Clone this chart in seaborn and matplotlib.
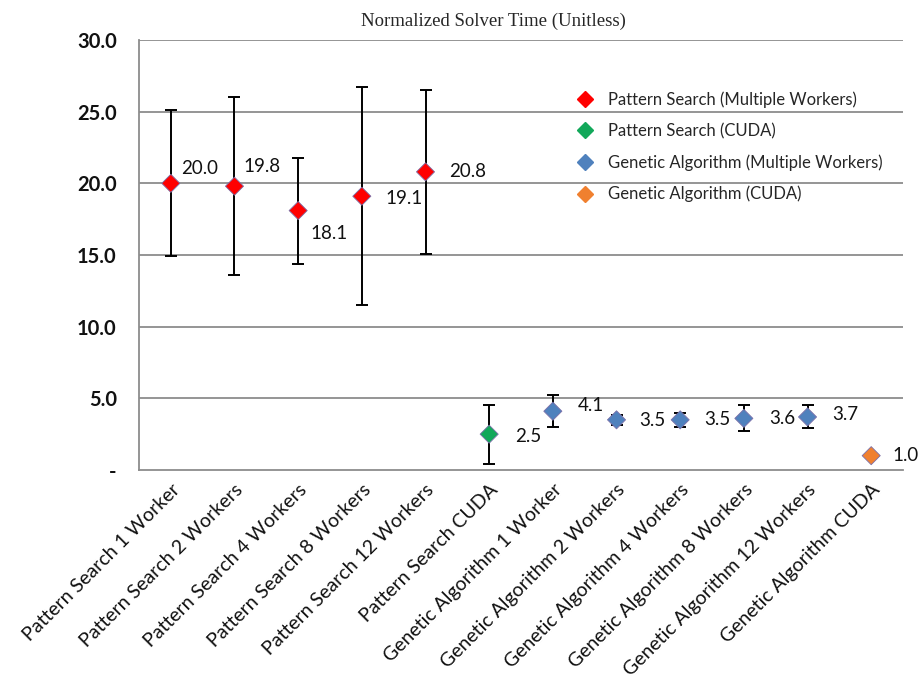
import matplotlib
matplotlib.use("Agg")
import matplotlib.pyplot as plt
import seaborn as sns
import pandas as pd
import numpy as np
from matplotlib.lines import Line2D

categories = [
    "Pattern Search 1 Worker", "Pattern Search 2 Workers", "Pattern Search 4 Workers",
    "Pattern Search 8 Workers", "Pattern Search 12 Workers", "Pattern Search CUDA",
    "Genetic Algorithm 1 Worker", "Genetic Algorithm 2 Workers", "Genetic Algorithm 4 Workers",
    "Genetic Algorithm 8 Workers", "Genetic Algorithm 12 Workers", "Genetic Algorithm CUDA",
]
values = [20.0, 19.8, 18.1, 19.1, 20.8, 2.5, 4.1, 3.5, 3.5, 3.6, 3.7, 1.0]
errors = [5.1, 6.2, 3.7, 7.6, 5.7, 2.05, 1.1, 0.35, 0.5, 0.9, 0.8, 0.0]
series = ["Pattern Search (Multiple Workers)"] * 5 + ["Pattern Search (CUDA)"] + \
         ["Genetic Algorithm (Multiple Workers)"] * 5 + ["Genetic Algorithm (CUDA)"]
series_order = ["Pattern Search (Multiple Workers)", "Pattern Search (CUDA)",
                "Genetic Algorithm (Multiple Workers)", "Genetic Algorithm (CUDA)"]
series_colors = ["#FF0000", "#12A85A", "#4F81BD", "#F0802F"]
y_ticks = [0, 5, 10, 15, 20, 25, 30]
y_tick_labels = ["-", "5.0", "10.0", "15.0", "20.0", "25.0", "30.0"]

# value-label placement relative to each marker, in pixels (right, up)
label_offsets_px = [(10, 15), (9, 20), (12, -23), (24, -2), (24, 0), (26, -2),
                    (25, 6), (23, -1), (24, 0), (25, 0), (25, 2), (21, 0)]

df = pd.DataFrame({"category": categories, "value": values, "error": errors, "series": series})
df["pos"] = np.arange(len(df))

sns.set_style("white")
plt.rcParams["font.family"] = ["Lato", "DejaVu Sans"]

fig = plt.figure(figsize=(9.18, 6.78), dpi=100)
ax = fig.add_axes([0.1514, 0.3068, 0.8323, 0.6342])

grid_color = "#8C8C8C"
for y in y_ticks[1:]:
    ax.axhline(y, color=grid_color, lw=1.3, zorder=0)

ax.errorbar(df["pos"], df["value"], yerr=df["error"], fmt="none",
            ecolor="black", elinewidth=1.4, capsize=4, capthick=1.4, zorder=2)

palette = dict(zip(series_order, series_colors))
sns.scatterplot(data=df, x="pos", y="value", hue="series", hue_order=series_order,
                palette=palette, marker="D", s=85, edgecolor="#7A6FA8", linewidth=0.6,
                legend=False, zorder=3, ax=ax)

for (_, r), (dx, dy) in zip(df.iterrows(), label_offsets_px):
    ax.annotate(f"{r['value']:.1f}", (r["pos"], r["value"]), xytext=(dx * 0.72, dy * 0.72),
                textcoords="offset points", ha="left", va="center",
                fontsize=13.5, color="#111111")

ax.set_xlim(-0.5, len(df) - 0.5)
ax.set_ylim(0, 30)
ax.set_yticks(y_ticks)
ax.set_yticklabels(y_tick_labels, fontsize=14.5, fontweight="bold", color="#111111")
ax.set_xticks(df["pos"])
ax.set_xticklabels(df["category"], rotation=45, ha="right", rotation_mode="anchor",
                   fontsize=14, color="#111111")
ax.tick_params(axis="x", length=0, pad=8)
ax.set_xticks(np.arange(-0.5, len(df), 1.0), minor=True)
ax.tick_params(axis="x", which="minor", length=6, color=grid_color, width=1.3, direction="out")
ax.tick_params(axis="y", length=6, color=grid_color, width=1.3, direction="out", pad=10)
ax.set_xlabel("")
ax.set_ylabel("")

for side in ["top", "right"]:
    ax.spines[side].set_visible(False)
for side in ["left", "bottom"]:
    ax.spines[side].set_color(grid_color)
    ax.spines[side].set_linewidth(1.3)

handles = [Line2D([0], [0], marker="D", linestyle="none", markersize=8,
                  markerfacecolor=c, markeredgecolor=c) for c in series_colors]
ax.legend(handles, series_order, loc="upper left", bbox_to_anchor=(0.553, 0.915),
          frameon=False, fontsize=12, handletextpad=0.9, labelspacing=0.9,
          handlelength=1.0)

fig.text(0.537, 0.968, "Normalized Solver Time (Unitless)", ha="center", va="center",
         fontsize=13.5, family=["Liberation Serif", "DejaVu Serif"])

fig.savefig("out.png", dpi=100)
